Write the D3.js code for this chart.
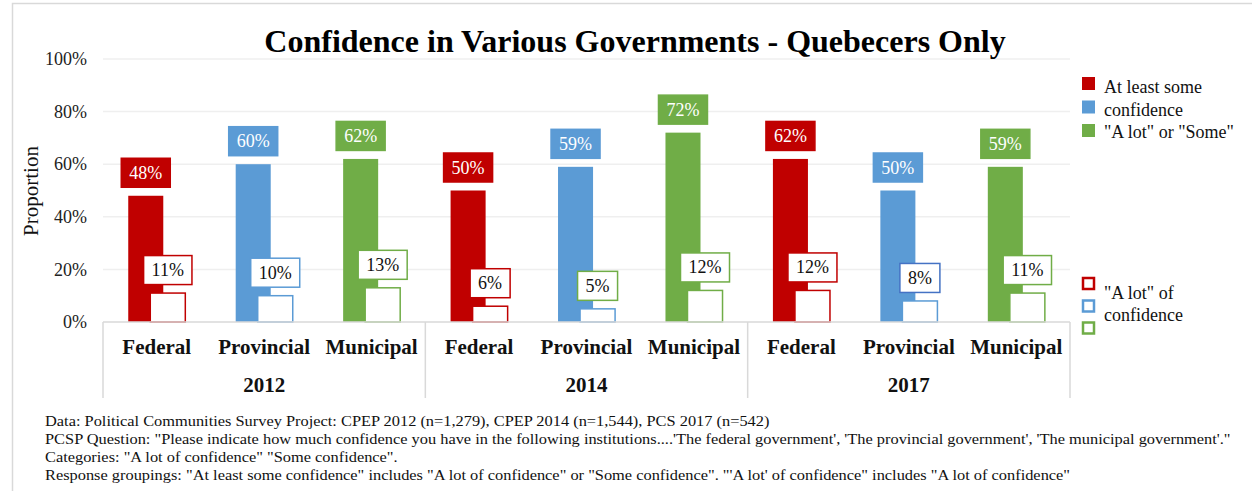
<!DOCTYPE html>
<html>
<head>
<meta charset="utf-8">
<script src="https://cdn.jsdelivr.net/npm/d3@7"></script>
<style>
  html, body { margin: 0; padding: 0; background: #fff; }
  svg { display: block; }
  text { font-family: "Liberation Serif", "Times New Roman", serif; }
</style>
</head>
<body>
<svg id="chart" width="1252" height="491"></svg>
<script>
// Survey years and levels of government
const years = ["2012", "2014", "2017"];
const governments = ["Federal", "Provincial", "Municipal"];

// "At least some confidence" (%), by year then government
const atLeastSome = [48, 60, 62, 50, 59, 72, 62, 50, 59];
// "A lot of confidence" (%), by year then government
const aLot = [11, 10, 13, 6, 5, 12, 12, 8, 11];

const yTicks = [0, 20, 40, 60, 80, 100];

const footnotes = [
  "Data: Political Communities Survey Project: CPEP 2012 (n=1,279), CPEP 2014 (n=1,544), PCS 2017 (n=542)",
  "PCSP Question: \"Please indicate how much confidence you have in the following institutions....'The federal government', 'The provincial government', 'The municipal government'.\"",
  "Categories: \"A lot of confidence\" \"Some confidence\".",
  "Response groupings: \"At least some confidence\" includes \"A lot of confidence\" or \"Some confidence\". \"'A lot' of confidence\" includes \"A lot of confidence\""
];

// Styling
const colors = { Federal: "#C00000", Provincial: "#5B9BD5", Municipal: "#70AD47" };
const labelBorderOverride = { "2014|Provincial": "#70AD47", "2017|Provincial": "#4472C4" };
const gridColor = "#EFEFEF";
const axisColor = "#D9D9D9";

const rows = [];
years.forEach((yr, i) => governments.forEach((g, j) => {
  rows.push({ year: yr, gov: g, some: atLeastSome[i * 3 + j], lot: aLot[i * 3 + j] });
}));

const svg = d3.select("#chart");

// Outer frame
svg.append("rect")
  .attr("x", 12.5).attr("y", 3.5).attr("width", 1260).attr("height", 500)
  .attr("fill", "none").attr("stroke", axisColor).attr("stroke-width", 1.5);

const plot = { left: 103, right: 1070, top: 59, bottom: 322 };

const y = d3.scaleLinear().domain([0, 100]).range([plot.bottom, plot.top]);
const x0 = d3.scaleBand().domain(years).range([plot.left, plot.right]);
const x1 = d3.scaleBand().domain(governments).range([0, x0.bandwidth()]);

const bw = x1.bandwidth();
const barW = bw * 0.326;
const solidOff = bw * 0.235;
const hollowOff = bw * 0.44;

// Gridlines
svg.append("g").selectAll("line")
  .data(yTicks.filter(d => d > 0))
  .join("line")
  .attr("x1", plot.left).attr("x2", plot.right)
  .attr("y1", d => y(d)).attr("y2", d => y(d))
  .attr("stroke", gridColor).attr("stroke-width", 1.5);

// Y axis labels
const yAxis = svg.append("g")
  .attr("transform", `translate(${plot.left},0)`)
  .call(d3.axisLeft(y).tickValues(yTicks).tickFormat(d => d + "%").tickSize(0).tickPadding(16));
yAxis.select(".domain").remove();
yAxis.selectAll("text")
  .style("font-family", "'Liberation Serif', 'Times New Roman', serif")
  .attr("font-size", 18).attr("fill", "#222");

// Y axis title
svg.append("text")
  .attr("transform", `translate(38,191) rotate(-90)`)
  .attr("text-anchor", "middle")
  .attr("font-size", 21).attr("fill", "#111")
  .text("Proportion");

// Title
svg.append("text")
  .attr("x", 635).attr("y", 52)
  .attr("text-anchor", "middle")
  .attr("font-size", 32).attr("font-weight", "bold").attr("fill", "#000")
  .text("Confidence in Various Governments - Quebecers Only");

const bars = svg.append("g");
const bx = d => x0(d.year) + x1(d.gov);

// "At least some confidence" bars
bars.selectAll("rect.some").data(rows).join("rect")
  .attr("class", "some")
  .attr("x", d => bx(d) + solidOff)
  .attr("y", d => y(d.some))
  .attr("width", barW)
  .attr("height", d => y(0) - y(d.some))
  .attr("fill", d => colors[d.gov]);

// "A lot of confidence" bars (hollow)
bars.selectAll("rect.lot").data(rows).join("rect")
  .attr("class", "lot")
  .attr("x", d => bx(d) + hollowOff)
  .attr("y", d => y(d.lot))
  .attr("width", barW)
  .attr("height", d => y(0) - y(d.lot))
  .attr("fill", "#fff")
  .attr("stroke", d => colors[d.gov]).attr("stroke-width", 1.5);

// Axis baseline and group separators
svg.append("line")
  .attr("x1", plot.left).attr("x2", plot.right)
  .attr("y1", plot.bottom).attr("y2", plot.bottom)
  .attr("stroke", axisColor).attr("stroke-width", 1.5);
const seps = years.map(yr => x0(yr)).concat([plot.right]);
svg.append("g").selectAll("line").data(seps).join("line")
  .attr("x1", d => d).attr("x2", d => d)
  .attr("y1", plot.bottom).attr("y2", 398)
  .attr("stroke", axisColor).attr("stroke-width", 1.5);

// Value labels
function addLabel(g, cx, barTop, txt, fill, stroke, textColor) {
  const t = g.append("text")
    .attr("x", cx).attr("text-anchor", "middle")
    .attr("font-size", 18).attr("fill", textColor)
    .text(txt);
  const w = t.node().getComputedTextLength() + 16;
  const h = 29;
  const boxBottom = barTop - 8.5;
  g.insert("rect", "text:last-child")
    .attr("x", cx - w / 2).attr("y", boxBottom - h)
    .attr("width", w).attr("height", h)
    .attr("fill", fill).attr("stroke", stroke).attr("stroke-width", 1.5);
  t.attr("y", boxBottom - h / 2 + 6);
}

rows.forEach(d => {
  const c = colors[d.gov];
  const g1 = svg.append("g");
  addLabel(g1, bx(d) + solidOff + barW / 2, y(d.some), d.some + "%", c, c, "#fff");
  const g2 = svg.append("g");
  const border = labelBorderOverride[d.year + "|" + d.gov] || c;
  addLabel(g2, bx(d) + hollowOff + barW / 2, y(d.lot), d.lot + "%", "#fff", border, "#111");
});

// Category labels
svg.append("g").selectAll("text").data(rows).join("text")
  .attr("x", d => bx(d) + bw / 2)
  .attr("y", 354)
  .attr("text-anchor", "middle")
  .attr("font-size", 21).attr("font-weight", "bold").attr("fill", "#111")
  .text(d => d.gov);

// Year labels
svg.append("g").selectAll("text").data(years).join("text")
  .attr("x", d => x0(d) + x0.bandwidth() / 2)
  .attr("y", 392)
  .attr("text-anchor", "middle")
  .attr("font-size", 21).attr("font-weight", "bold").attr("fill", "#111")
  .text(d => d);

// Legend: filled series
const legend = svg.append("g");
const filledY = [77, 100.5, 124];
governments.forEach((g, i) => {
  legend.append("rect")
    .attr("x", 1082).attr("y", filledY[i]).attr("width", 13).attr("height", 13)
    .attr("fill", colors[g]);
});
[["At least some", 93], ["confidence", 115.5], ["\"A lot\" or \"Some\"", 137.5]].forEach(([t, yy]) => {
  legend.append("text").attr("x", 1104).attr("y", yy)
    .attr("font-size", 18).attr("fill", "#111").text(t);
});

// Legend: hollow series
const hollowY = [278, 300.5, 322.5];
governments.forEach((g, i) => {
  legend.append("rect")
    .attr("x", 1083).attr("y", hollowY[i]).attr("width", 11).attr("height", 11)
    .attr("fill", "#fff").attr("stroke", colors[g]).attr("stroke-width", 2.5);
});
[["\"A lot\" of", 299], ["confidence", 320.5]].forEach(([t, yy]) => {
  legend.append("text").attr("x", 1104).attr("y", yy)
    .attr("font-size", 18).attr("fill", "#111").text(t);
});

// Footnotes: a narrow setting, condensed uniformly so the longest line spans 1186px
const notes = svg.append("g");
const noteText = notes.selectAll("text").data(footnotes).join("text")
  .attr("x", 0)
  .attr("y", (d, i) => 426 + i * 18)
  .attr("font-size", 15.5).attr("fill", "#111")
  .text(d => d);
const natural = noteText.nodes()[1].getComputedTextLength();
notes.attr("transform", `translate(45,0) scale(${1186 / natural},1)`);
</script>
</body>
</html>
